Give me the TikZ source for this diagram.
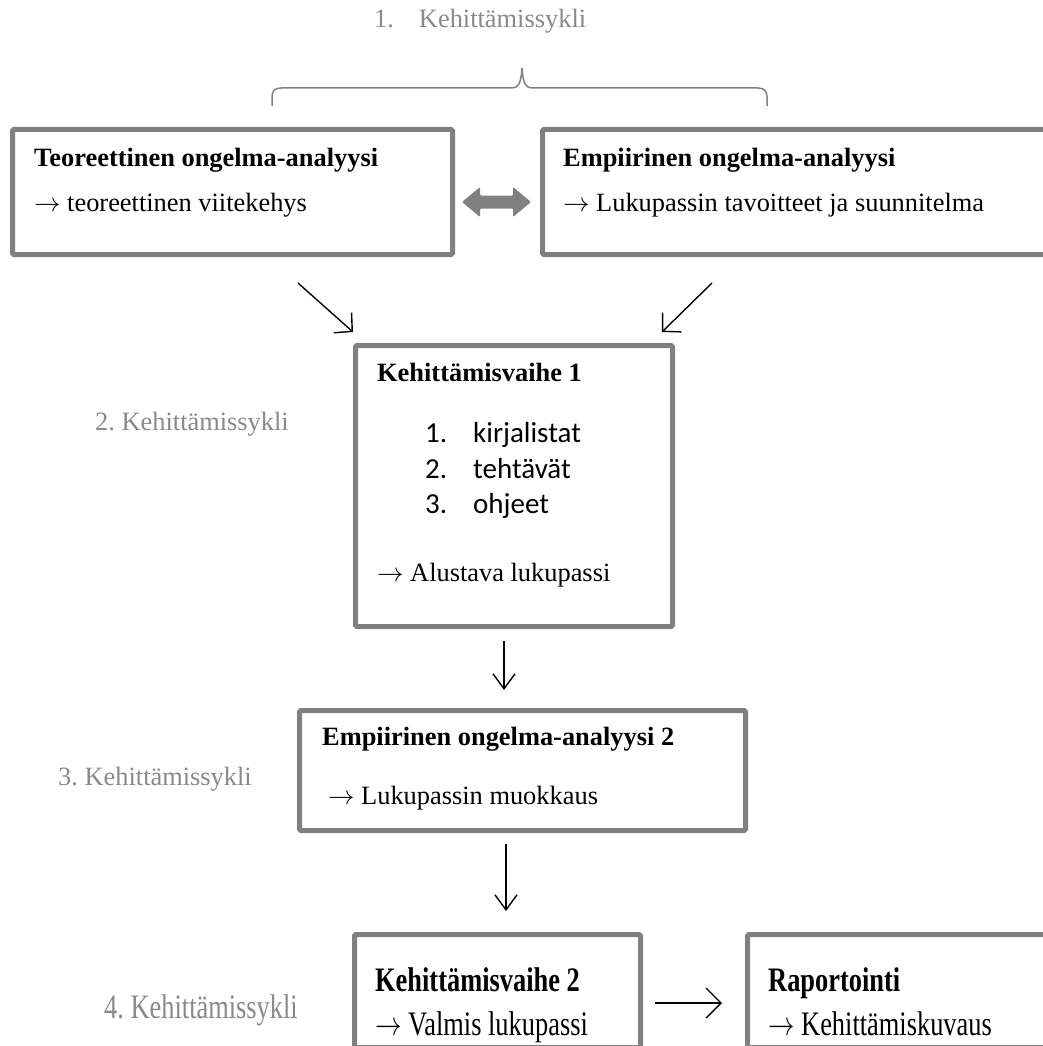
\documentclass[tikz,border=0pt]{standalone}
\usepackage{fontspec}
\usepackage{fix-cm}
\setmainfont{Liberation Serif}
\newfontfamily\calib{Carlito}
\usetikzlibrary{arrows.meta}
\definecolor{boxgray}{RGB}{128,128,128}
\definecolor{labgray}{RGB}{137,137,137}
\newcommand{\arr}{$\rightarrow$}
\newcommand{\tall}[1]{\scalebox{1}[1.3]{#1}}
\frenchspacing
\begin{document}
\begin{tikzpicture}[x=1pt,y=-1pt,
  box/.style={draw=boxgray, line width=5pt, rounded corners=1.5pt, inner sep=0pt, outer sep=0pt, anchor=north west},
  txt/.style={anchor=base west, inner sep=0pt, font=\fontsize{26.4}{30}\selectfont},
  bld/.style={anchor=base west, inner sep=0pt, font=\fontsize{26.4}{30}\selectfont\bfseries},
  lab/.style={txt, text=labgray},
  lst/.style={anchor=base west, inner sep=0pt, font=\calib\fontsize{29}{34}\selectfont},
  conn/.style={line width=1.4pt, -{Straight Barb[length=15pt,width=22pt]}},
  diag/.style={line width=1.4pt, -{Straight Barb[length=13pt,width=27pt]}}]
\useasboundingbox (0,0) rectangle (1043,1046);
\clip (0,0) rectangle (1043,1046);

% title and brace
\node[lab] (t1) at (374,28) {1.\hspace{25pt}Kehittämissykli};
\draw[boxgray, line width=1.5pt] (272,106) -- (272,97) .. controls (272,91) and (275,88) .. (281,88) -- (512,88) .. controls (518,88) and (521,84) .. (522,68) .. controls (523,84) and (526,88) .. (532,88) -- (758,88) .. controls (764,88) and (767,91) .. (767,97) -- (767,106);

% boxes
\node[box, minimum width=440pt, minimum height=125pt] (A) at (12.5,129.5) {};
\node[box, minimum width=560pt, minimum height=125pt] (B) at (542.5,129.5) {};
\node[box, minimum width=317pt, minimum height=281pt] (C) at (355.5,345.5) {};
\node[box, minimum width=446pt, minimum height=120pt] (D) at (299.5,710.5) {};
\node[box, minimum width=286pt, minimum height=113pt] (E) at (354.5,934.5) {};
\node[box, minimum width=360pt, minimum height=113pt] (F) at (747.5,934.5) {};

% box texts
\node[bld] (a1) at (34,166) {Teoreettinen ongelma-analyysi};
\node[txt] (a2) at (34,211) {\arr{} teoreettinen viitekehys};
\node[bld] (b1) at (563,166) {Empiirinen ongelma-analyysi};
\node[txt] (b2) at (563,211) {\arr{} Lukupassin tavoitteet ja suunnitelma};
\node[bld] (c1) at (377,381) {Kehittämisvaihe 1};
\node[lst] (c2) at (425,442) {\makebox[48pt][l]{1.}kirjalistat};
\node[lst] (c3) at (425,478) {\makebox[48pt][l]{2.}tehtävät};
\node[lst] (c4) at (425,513) {\makebox[48pt][l]{3.}ohjeet};
\node[txt] (c5) at (377,581) {\arr{} Alustava lukupassi};
\node[bld] (d1) at (322,745) {Empiirinen ongelma-analyysi 2};
\node[txt] (d2) at (328,804) {\arr{} Lukupassin muokkaus};
\node[bld] (e1) at (375,991) {\tall{Kehittämisvaihe 2}};
\node[txt] (e2) at (375,1035) {\tall{\arr{} Valmis lukupassi}};
\node[bld] (f1) at (768,991) {\tall{Raportointi}};
\node[txt] (f2) at (768,1035) {\tall{\arr{} Kehittämiskuvaus}};

% side labels
\node[lab] (l2) at (95,430) {2. Kehittämissykli};
\node[lab] (l3) at (58,785) {3. Kehittämissykli};
\node[lab] (l4) at (104,1018) {\tall{4. Kehittämissykli}};

% double arrow between A and B
\fill[boxgray, rounded corners=1pt] (462,202) -- (480,187) -- (480,195.5) -- (513,195.5) -- (513,187) -- (531,202) -- (513,217) -- (513,208.5) -- (480,208.5) -- (480,217) -- cycle;

% connectors
\coordinate (pA) at (298,283);
\coordinate (qA) at (353,332);
\coordinate (pB) at (712,283);
\coordinate (qB) at (662,332);
\coordinate (pC) at (504,641);
\coordinate (qC) at (504,690);
\coordinate (pD) at (506,844);
\coordinate (qD) at (506,911);
\coordinate (pE) at (655,1003);
\coordinate (qE) at (722,1003);
\draw[diag] (pA) -- (qA);
\draw[diag] (pB) -- (qB);
\draw[conn] (pC) -- (qC);
\draw[conn] (pD) -- (qD);
\draw[conn, -{Straight Barb[length=15pt,width=30pt]}] (pE) -- (qE);
\end{tikzpicture}
\end{document}
